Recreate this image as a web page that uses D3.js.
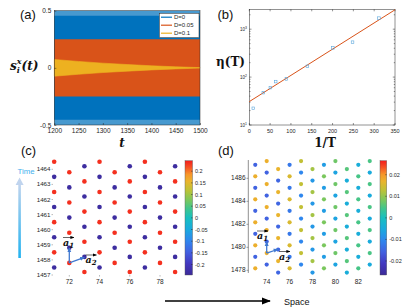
<!DOCTYPE html>
<html>
<head>
<meta charset="utf-8">
<script src="https://cdn.jsdelivr.net/npm/d3@7/dist/d3.min.js"></script>
<style>
  body { margin: 0; background: #fff; }
  svg { display: block; font-family: "Liberation Sans", Arial, sans-serif; }
</style>
</head>
<body>
<svg id="fig" width="415" height="308"></svg>
<script>
// ---- data ----

// (a) envelopes of the three s_i^x(t) time series
const legendLabels = ["D=0", "D=0.05", "D=0.1"];
const seriesColors = ["#0072bd", "#d95319", "#edb120"];
const envT = [1200, 1250, 1300, 1350, 1400, 1450, 1500];
const envD0Outer = [0.5, 0.5, 0.5, 0.5, 0.5, 0.5, 0.5];
const envD0Inner = [0.455, 0.455, 0.455, 0.455, 0.455, 0.455, 0.455];
const envD005 = [0.25, 0.25, 0.25, 0.25, 0.25, 0.25, 0.25];
const envD01 = [0.073, 0.056, 0.041, 0.029, 0.018, 0.009, 0.002];
const aTicksX = [1200, 1250, 1300, 1350, 1400, 1450, 1500];
const aTicksY = [-0.5, 0, 0.5];

// (b) eta(T) vs 1/T, with exponential fit
const invT = [9.6, 33.7, 50.6, 63.4, 89.1, 139.6, 200.6, 248, 311.4];
const eta = [22.3, 47.4, 60.3, 80.6, 91.6, 168, 407, 535, 1700];
const fitX = [0, 350];
const fitY = [30.8, 2540];
const bTicksX = [0, 50, 100, 150, 200, 250, 300, 350];

// (c) space-time crystal, D = 0: one column per site
const cSites = [71, 72, 73, 74, 75, 76, 77, 78, 79];
const cFirstT = [1457.5, 1457.8, 1457.2, 1457.5, 1457.8, 1457.2, 1457.5, 1457.8, 1457.2];
const cCount = [8, 7, 8, 8, 7, 8, 8, 7, 8];
const cFirstVal = [-0.235, 0.235, 0.235, -0.235, 0.235, 0.235, -0.235, 0.235, 0.235];
const cTicksY = [1457, 1458, 1459, 1460, 1461, 1462, 1463, 1464];
const cTicksX = [72, 74, 76, 78];
const cBarTicks = [0.2, 0.15, 0.1, 0.05, 0, -0.05, -0.1, -0.15, -0.2];

// (d) space-time crystal with decay: warm/cool value per site
const dSites = [73, 74, 75, 76, 77, 78, 79, 80, 81, 82, 83];
const dFirstT = [1478.17, 1478.5, 1477.8, 1478.17, 1478.5, 1477.8, 1478.17, 1478.5, 1477.8, 1478.17, 1478.5];
const dFirstWarm = [1, 0, 0, 1, 0, 0, 1, 0, 0, 1, 0];
const dWarm = [0.0175, 0.0175, 0.017, 0.0154, 0.0133, 0.0111, 0.0082, 0.0074, 0.0058, 0.0048, 0.005];
const dCool = [-0.0155, -0.0155, -0.015, -0.0125, -0.0105, -0.008, -0.0072, -0.0062, -0.0045, -0.0045, -0.005];
const dCount = 10;
const dTicksY = [1478, 1480, 1482, 1484, 1486];
const dTicksX = [74, 76, 78, 80, 82];
const dBarTicks = [0.02, 0.01, 0, -0.01, -0.02];

// colour map stops (normalised position -> colour)
const cmapPos = [0, 0.1, 0.2, 0.3, 0.4, 0.5, 0.58, 0.66, 0.74, 0.82, 0.88, 0.94, 1];
const cmapCol = ["#3c2a98", "#4338c0", "#4260e0", "#2f86ee", "#1aaade", "#18bfc0",
                 "#3fc58e", "#7ec75a", "#bcc236", "#eab42c", "#f7962a", "#f65424", "#f31d1d"];
const cmap = d3.scaleLinear().domain(cmapPos).range(cmapCol).clamp(true);

const svg = d3.select("#fig");
const defs = svg.append("defs");
const axisCol = "#262626";
const tickFont = 6.5;

function panelLabel(x, y, txt) {
  svg.append("text").attr("x", x).attr("y", y)
    .attr("font-size", 13).attr("fill", "#111").text(txt);
}

function arrowMarker(id, color, size) {
  defs.append("marker").attr("id", id)
    .attr("viewBox", "0 0 10 10").attr("refX", 9).attr("refY", 5)
    .attr("markerWidth", size).attr("markerHeight", size)
    .attr("markerUnits", "userSpaceOnUse").attr("orient", "auto")
    .append("path").attr("d", "M0,1 L10,5 L0,9 Z").attr("fill", color);
}
arrowMarker("arrBlue", "#3f78d0", 5);
arrowMarker("arrBlack", "#000", 4);
arrowMarker("arrBig", "#000", 9);

// ================= (a) =================
(function drawA() {
  const x = d3.scaleLinear().domain([1200, 1500]).range([54.3, 200]);
  const y = d3.scaleLinear().domain([-0.5, 0.5]).range([125, 10.7]);
  const g = svg.append("g");
  const band = env => d3.area()
    .x((d, i) => x(envT[i]))
    .y0((d, i) => y(-env[i]))
    .y1((d, i) => y(env[i]))(envT);

  // D=0 band has a noisy edge: lighter outer strip, solid core
  g.append("path").attr("d", band(envD0Outer)).attr("fill", seriesColors[0]).attr("opacity", 0.72);
  g.append("path").attr("d", band(envD0Inner)).attr("fill", seriesColors[0]);
  g.append("path").attr("d", band(envD005)).attr("fill", seriesColors[1]);
  g.append("path").attr("d", band(envD01)).attr("fill", seriesColors[2])
    .attr("stroke", seriesColors[2]).attr("stroke-width", 0.6);

  g.append("rect").attr("x", 54.3).attr("y", 10.7).attr("width", 145.7).attr("height", 114.3)
    .attr("fill", "none").attr("stroke", axisCol).attr("stroke-width", 0.5);

  const xa = g.append("g").attr("transform", "translate(0,125)")
    .call(d3.axisBottom(x).tickValues(aTicksX).tickSize(-2).tickPadding(3).tickFormat(d3.format("d")));
  const ya = g.append("g").attr("transform", "translate(54.3,0)")
    .call(d3.axisLeft(y).tickValues(aTicksY).tickSize(-2).tickPadding(3).tickFormat(d => d));
  [xa, ya].forEach(a => {
    a.select(".domain").remove();
    a.selectAll("line").attr("stroke", axisCol).attr("stroke-width", 0.5);
    a.selectAll("text").attr("font-size", tickFont).attr("fill", axisCol);
  });

  // legend
  const lg = g.append("g");
  lg.append("rect").attr("x", 159.3).attr("y", 13.3).attr("width", 39.7).attr("height", 24.4)
    .attr("fill", "#fff").attr("stroke", axisCol).attr("stroke-width", 0.5);
  legendLabels.forEach((lab, i) => {
    const yy = 17.2 + i * 8;
    lg.append("line").attr("x1", 161).attr("x2", 172).attr("y1", yy).attr("y2", yy)
      .attr("stroke", seriesColors[i]).attr("stroke-width", 1.2);
    lg.append("text").attr("x", 174).attr("y", yy + 2.2).attr("font-size", 6)
      .attr("fill", axisCol).text(lab);
  });

  // labels
  const yl = g.append("text").attr("x", 10).attr("y", 70)
    .attr("font-family", "DejaVu Serif, serif").attr("font-style", "italic")
    .attr("font-weight", "bold").attr("font-size", 12).attr("fill", "#111");
  yl.append("tspan").text("s");
  yl.append("tspan").attr("font-size", 8).attr("dy", 3).text("i");
  yl.append("tspan").attr("font-size", 8).attr("dx", -3).attr("dy", -9).text("x");
  yl.append("tspan").attr("dy", 6).text("(t)");
  g.append("text").attr("x", 122).attr("y", 147).attr("text-anchor", "middle")
    .attr("font-family", "DejaVu Serif, serif").attr("font-style", "italic")
    .attr("font-weight", "bold").attr("font-size", 12).attr("fill", "#111").text("t");
  panelLabel(20, 18.5, "(a)");
})();

// ================= (b) =================
(function drawB() {
  const x = d3.scaleLinear().domain([0, 350]).range([249.3, 395]);
  const y = d3.scaleLog().domain([10, 2600]).range([125, 9.3]);
  const g = svg.append("g");

  g.append("rect").attr("x", 249.3).attr("y", 9.3).attr("width", 145.7).attr("height", 115.7)
    .attr("fill", "#fff").attr("stroke", axisCol).attr("stroke-width", 0.5);

  // x ticks (inward, mirrored on top)
  bTicksX.forEach(v => {
    g.append("line").attr("x1", x(v)).attr("x2", x(v)).attr("y1", 125).attr("y2", 123)
      .attr("stroke", axisCol).attr("stroke-width", 0.5);
    g.append("line").attr("x1", x(v)).attr("x2", x(v)).attr("y1", 9.3).attr("y2", 11.3)
      .attr("stroke", axisCol).attr("stroke-width", 0.5);
    g.append("text").attr("x", x(v)).attr("y", 132.5).attr("text-anchor", "middle")
      .attr("font-size", 5.5).attr("fill", axisCol).text(v);
  });
  // log ticks: majors with labels, minors shorter
  y.ticks().forEach(v => {
    const major = Math.abs(Math.log10(v) - Math.round(Math.log10(v))) < 1e-9;
    const len = major ? 2.2 : 1.2;
    g.append("line").attr("x1", 249.3).attr("x2", 249.3 + len).attr("y1", y(v)).attr("y2", y(v))
      .attr("stroke", axisCol).attr("stroke-width", 0.5);
    g.append("line").attr("x1", 395).attr("x2", 395 - len).attr("y1", y(v)).attr("y2", y(v))
      .attr("stroke", axisCol).attr("stroke-width", 0.5);
    if (major) {
      const t = g.append("text").attr("x", 240).attr("y", y(v) + 1.8)
        .attr("font-size", 4.5).attr("fill", axisCol);
      t.append("tspan").text("10");
      t.append("tspan").attr("font-size", 3.5).attr("dy", -2).text(Math.round(Math.log10(v)));
    }
  });

  g.append("path")
    .attr("d", d3.line().x((d, i) => x(fitX[i])).y((d, i) => y(fitY[i]))(fitX))
    .attr("fill", "none").attr("stroke", "#d95319").attr("stroke-width", 1);

  g.selectAll(".pt").data(invT).enter().append("rect")
    .attr("x", (d, i) => x(d) - 1.3).attr("y", (d, i) => y(eta[i]) - 1.3)
    .attr("width", 2.6).attr("height", 2.6)
    .attr("fill", "none").attr("stroke", "#5aa6dc").attr("stroke-width", 0.6);

  g.append("text").attr("x", 216).attr("y", 66)
    .attr("font-family", "DejaVu Serif, serif").attr("font-weight", "bold")
    .attr("font-size", 12).attr("fill", "#111").text("η(T)");
  g.append("text").attr("x", 325).attr("y", 147).attr("text-anchor", "middle")
    .attr("font-family", "DejaVu Serif, serif").attr("font-weight", "bold")
    .attr("font-size", 12).attr("fill", "#111").text("1/T");
  panelLabel(217.5, 18.5, "(b)");
})();

// colour bar helper
function colorBar(id, x0, y0, w, h, lo, hi, ticks, fmt) {
  const grad = defs.append("linearGradient").attr("id", id)
    .attr("x1", 0).attr("y1", 1).attr("x2", 0).attr("y2", 0);
  cmapPos.forEach((p, i) => grad.append("stop").attr("offset", p).attr("stop-color", cmapCol[i]));
  svg.append("rect").attr("x", x0).attr("y", y0).attr("width", w).attr("height", h)
    .attr("fill", `url(#${id})`).attr("stroke", "#555").attr("stroke-width", 0.4);
  const s = d3.scaleLinear().domain([lo, hi]).range([y0 + h, y0]);
  ticks.forEach(v => {
    svg.append("line").attr("x1", x0 + w - 1.5).attr("x2", x0 + w).attr("y1", s(v)).attr("y2", s(v))
      .attr("stroke", axisCol).attr("stroke-width", 0.5);
    svg.append("text").attr("x", x0 + w + 2.5).attr("y", s(v) + 2)
      .attr("font-size", 5.5).attr("fill", axisCol).text(fmt(v));
  });
}

// lattice vector with over-arrow label
function latticeVec(x1, y1, x2, y2) {
  svg.append("line").attr("x1", x1).attr("y1", y1).attr("x2", x2).attr("y2", y2)
    .attr("stroke", "#3f78d0").attr("stroke-width", 1.3).attr("marker-end", "url(#arrBlue)");
}
function vecLabel(x, y, sub) {
  svg.append("line").attr("x1", x).attr("x2", x + 11).attr("y1", y - 8).attr("y2", y - 8)
    .attr("stroke", "#000").attr("stroke-width", 0.6).attr("marker-end", "url(#arrBlack)");
  const t = svg.append("text").attr("x", x).attr("y", y)
    .attr("font-family", "DejaVu Serif, serif").attr("font-style", "italic")
    .attr("font-weight", "bold").attr("font-size", 9.5).attr("fill", "#111");
  t.append("tspan").text("a");
  t.append("tspan").attr("font-size", 7).attr("dy", 2).text(sub);
}

// ================= (c) =================
(function drawC() {
  const x = d3.scaleLinear().domain([72, 78]).range([69.3, 160]);
  const y = d3.scaleLinear().domain([1457, 1464]).range([275, 169.3]);
  const lo = -0.245, hi = 0.245;
  const norm = v => (v - lo) / (hi - lo);
  const pts = [];
  cSites.forEach((s, i) => {
    for (let k = 0; k < cCount[i]; k++) {
      pts.push({ s: s, t: cFirstT[i] + k, v: k % 2 ? -cFirstVal[i] : cFirstVal[i] });
    }
  });
  svg.append("g").selectAll("circle").data(pts).enter().append("circle")
    .attr("cx", d => x(d.s)).attr("cy", d => y(d.t)).attr("r", 2.3)
    .attr("fill", d => cmap(norm(d.v)));

  cTicksY.forEach(v => {
    svg.append("text").attr("x", 50.5).attr("y", y(v) + 2).attr("text-anchor", "end")
      .attr("font-size", 6.2).attr("fill", axisCol).text(v);
    svg.append("line").attr("x1", 51.5).attr("x2", 53).attr("y1", y(v)).attr("y2", y(v))
      .attr("stroke", "#777").attr("stroke-width", 0.5);
  });
  cTicksX.forEach(v => {
    svg.append("line").attr("x1", x(v)).attr("x2", x(v)).attr("y1", 275).attr("y2", 276.6)
      .attr("stroke", "#777").attr("stroke-width", 0.5);
    svg.append("text").attr("x", x(v)).attr("y", 284).attr("text-anchor", "middle")
      .attr("font-size", tickFont).attr("fill", axisCol).text(v);
  });

  latticeVec(x(72), y(1457.8), x(72), y(1458.8));
  latticeVec(x(72), y(1457.8), x(73), y(1458.17));
  vecLabel(63, 245.5, "1");
  vecLabel(85.5, 263, "2");

  colorBar("cbC", 185, 160.7, 7.5, 114.3, lo, hi, cBarTicks, d => d);
  panelLabel(21, 155, "(c)");
})();

// ================= (d) =================
(function drawD() {
  const x = d3.scaleLinear().domain([74, 82]).range([266.7, 358.3]);
  const y = d3.scaleLinear().domain([1478, 1486]).range([270.3, 178.3]);
  const lo = -0.0265, hi = 0.0265;
  const norm = v => (v - lo) / (hi - lo);
  const pts = [];
  dSites.forEach((s, i) => {
    for (let k = 0; k < dCount; k++) {
      const warm = (k % 2 === 0) === (dFirstWarm[i] === 1);
      pts.push({ s: s, t: dFirstT[i] + k, v: warm ? dWarm[i] : dCool[i] });
    }
  });
  svg.append("g").selectAll("circle").data(pts).enter().append("circle")
    .attr("cx", d => x(d.s)).attr("cy", d => y(d.t)).attr("r", 2.1)
    .attr("fill", d => cmap(norm(d.v)));

  svg.append("line").attr("x1", 248.3).attr("x2", 248.3).attr("y1", 160).attr("y2", 273)
    .attr("stroke", "#444").attr("stroke-width", 0.6);
  dTicksY.forEach(v => {
    svg.append("line").attr("x1", 246.5).attr("x2", 248.3).attr("y1", y(v)).attr("y2", y(v))
      .attr("stroke", "#444").attr("stroke-width", 0.5);
    svg.append("text").attr("x", 245.5).attr("y", y(v) + 2).attr("text-anchor", "end")
      .attr("font-size", tickFont).attr("fill", axisCol).text(v);
  });
  dTicksX.forEach(v => {
    svg.append("text").attr("x", x(v)).attr("y", 284).attr("text-anchor", "middle")
      .attr("font-size", tickFont).attr("fill", axisCol).text(v);
  });

  latticeVec(x(74), y(1479.5), x(74), y(1480.5));
  latticeVec(x(74), y(1479.5), x(75), y(1479.83));
  vecLabel(257, 239, "1");
  vecLabel(279, 259.5, "2");

  colorBar("cbD", 380, 160.7, 6.7, 114.3, lo, hi, dBarTicks, d => d);
  panelLabel(218, 155, "(d)");
})();

// ================= time / space annotations =================
const tg = defs.append("linearGradient").attr("id", "timeGrad")
  .attr("x1", 0).attr("y1", 1).attr("x2", 0).attr("y2", 0);
tg.append("stop").attr("offset", 0).attr("stop-color", "#22b2f0");
tg.append("stop").attr("offset", 1).attr("stop-color", "#c0d4ee");
svg.append("rect").attr("x", 18.3).attr("y", 184).attr("width", 2.6).attr("height", 74)
  .attr("fill", "url(#timeGrad)");
svg.append("path").attr("d", "M15.6,185 L19.6,177.5 L23.6,185 Z").attr("fill", "#c0d4ee");
svg.append("text").attr("x", 17.5).attr("y", 173.5).attr("font-size", 7.8)
  .attr("fill", "#3fb0ee").text("Time");

svg.append("line").attr("x1", 165).attr("x2", 270).attr("y1", 301).attr("y2", 301)
  .attr("stroke", "#000").attr("stroke-width", 1.6).attr("marker-end", "url(#arrBig)");
svg.append("text").attr("x", 284).attr("y", 304.5).attr("font-size", 9)
  .attr("fill", "#111").text("Space");
</script>
</body>
</html>
